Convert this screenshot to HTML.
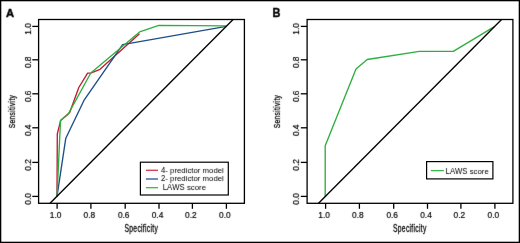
<!DOCTYPE html>
<html><head><meta charset="utf-8"><style>
html,body{margin:0;padding:0;background:#fff;}
svg{display:block;will-change:transform;}
text{font-family:"Liberation Sans", sans-serif;fill:#000;font-variant-ligatures:none;font-kerning:none;}
</style></head><body>
<svg width="520" height="243" viewBox="0 0 520 243" xmlns="http://www.w3.org/2000/svg">
<defs><filter id="bl" filterUnits="userSpaceOnUse" x="0" y="0" width="520" height="243"><feConvolveMatrix order="3" kernelMatrix="0.00524 0.06192 0.00524 0.06192 0.73137 0.06192 0.00524 0.06192 0.00524" edgeMode="none"/></filter></defs>
<rect x="0" y="0" width="520" height="243" fill="#fff"/>
<rect x="38.6" y="19.5" width="205.80" height="183.80" fill="none" stroke="#000" stroke-width="1.3"/>
<line x1="57.10" y1="203.3" x2="57.10" y2="208.8" stroke="#000" stroke-width="1.3"/>
<line x1="90.90" y1="203.3" x2="90.90" y2="208.8" stroke="#000" stroke-width="1.3"/>
<line x1="125.20" y1="203.3" x2="125.20" y2="208.8" stroke="#000" stroke-width="1.3"/>
<line x1="159.00" y1="203.3" x2="159.00" y2="208.8" stroke="#000" stroke-width="1.3"/>
<line x1="192.40" y1="203.3" x2="192.40" y2="208.8" stroke="#000" stroke-width="1.3"/>
<line x1="226.40" y1="203.3" x2="226.40" y2="208.8" stroke="#000" stroke-width="1.3"/>
<line x1="32.3" y1="196.40" x2="38.6" y2="196.40" stroke="#000" stroke-width="1.3"/>
<line x1="32.3" y1="162.40" x2="38.6" y2="162.40" stroke="#000" stroke-width="1.3"/>
<line x1="32.3" y1="127.80" x2="38.6" y2="127.80" stroke="#000" stroke-width="1.3"/>
<line x1="32.3" y1="93.80" x2="38.6" y2="93.80" stroke="#000" stroke-width="1.3"/>
<line x1="32.3" y1="59.80" x2="38.6" y2="59.80" stroke="#000" stroke-width="1.3"/>
<line x1="32.3" y1="26.40" x2="38.6" y2="26.40" stroke="#000" stroke-width="1.3"/>
<polyline points="57.00,196.40 57.30,134.00 60.60,120.60 69.70,112.50 78.80,87.50 87.60,73.10 90.70,73.10 100.00,69.30 139.50,33.80" fill="none" stroke="#c41a32" stroke-width="1.35" stroke-linejoin="round"/>
<polyline points="57.00,196.40 65.80,138.20 84.30,99.80 122.60,44.60 226.30,26.30" fill="none" stroke="#1c4e88" stroke-width="1.35" stroke-linejoin="round"/>
<polyline points="57.00,196.40 60.50,120.60 67.90,114.60 90.80,73.00 139.60,31.90 158.80,25.40 226.30,25.90" fill="none" stroke="#2fae40" stroke-width="1.35" stroke-linejoin="round"/>
<line x1="50.03" y1="203.3" x2="233.07" y2="19.5" stroke="#000" stroke-width="1.35"/>
<rect x="140.4" y="162.2" width="87.9" height="32.8" fill="#fff" stroke="#000" stroke-width="1.2"/>
<line x1="145.9" y1="170.3" x2="158.0" y2="170.3" stroke="#d2364c" stroke-width="1.3"/>
<line x1="145.9" y1="179.0" x2="158.0" y2="179.0" stroke="#245391" stroke-width="1.3"/>
<line x1="145.9" y1="187.7" x2="158.0" y2="187.7" stroke="#3cb54c" stroke-width="1.3"/>
<rect x="307.1" y="19.5" width="205.80" height="183.80" fill="none" stroke="#000" stroke-width="1.3"/>
<line x1="325.60" y1="203.3" x2="325.60" y2="208.8" stroke="#000" stroke-width="1.3"/>
<line x1="359.40" y1="203.3" x2="359.40" y2="208.8" stroke="#000" stroke-width="1.3"/>
<line x1="393.70" y1="203.3" x2="393.70" y2="208.8" stroke="#000" stroke-width="1.3"/>
<line x1="427.50" y1="203.3" x2="427.50" y2="208.8" stroke="#000" stroke-width="1.3"/>
<line x1="460.90" y1="203.3" x2="460.90" y2="208.8" stroke="#000" stroke-width="1.3"/>
<line x1="494.90" y1="203.3" x2="494.90" y2="208.8" stroke="#000" stroke-width="1.3"/>
<line x1="300.8" y1="196.40" x2="307.1" y2="196.40" stroke="#000" stroke-width="1.3"/>
<line x1="300.8" y1="162.40" x2="307.1" y2="162.40" stroke="#000" stroke-width="1.3"/>
<line x1="300.8" y1="127.80" x2="307.1" y2="127.80" stroke="#000" stroke-width="1.3"/>
<line x1="300.8" y1="93.80" x2="307.1" y2="93.80" stroke="#000" stroke-width="1.3"/>
<line x1="300.8" y1="59.80" x2="307.1" y2="59.80" stroke="#000" stroke-width="1.3"/>
<line x1="300.8" y1="26.40" x2="307.1" y2="26.40" stroke="#000" stroke-width="1.3"/>
<polyline points="325.20,196.40 325.20,145.70 356.00,69.00 367.20,59.50 419.40,51.40 453.30,51.40 494.80,26.30" fill="none" stroke="#2fae40" stroke-width="1.35" stroke-linejoin="round"/>
<line x1="318.53" y1="203.3" x2="501.57" y2="19.5" stroke="#000" stroke-width="1.35"/>
<rect x="426.6" y="161.6" width="66.3" height="17.3" fill="#fff" stroke="#000" stroke-width="1.2"/>
<line x1="430.9" y1="170.6" x2="443.9" y2="170.6" stroke="#3cb54c" stroke-width="1.3"/>
<rect x="0.65" y="0.65" width="518.7" height="241.7" fill="none" stroke="#000" stroke-width="1.3"/>
<g filter="url(#bl)">
<text transform="translate(55.60,217.9) scale(0.92,1)" font-size="9.1" text-anchor="middle" stroke="#000" stroke-width="0.2">1.0</text>
<text transform="translate(89.40,217.9) scale(0.92,1)" font-size="9.1" text-anchor="middle" stroke="#000" stroke-width="0.2">0.8</text>
<text transform="translate(123.70,217.9) scale(0.92,1)" font-size="9.1" text-anchor="middle" stroke="#000" stroke-width="0.2">0.6</text>
<text transform="translate(157.50,217.9) scale(0.92,1)" font-size="9.1" text-anchor="middle" stroke="#000" stroke-width="0.2">0.4</text>
<text transform="translate(190.90,217.9) scale(0.92,1)" font-size="9.1" text-anchor="middle" stroke="#000" stroke-width="0.2">0.2</text>
<text transform="translate(224.90,217.9) scale(0.92,1)" font-size="9.1" text-anchor="middle" stroke="#000" stroke-width="0.2">0.0</text>
<text transform="translate(30.9,198.90) rotate(-90) scale(0.92,1)" font-size="9.1" text-anchor="middle" stroke="#000" stroke-width="0.2">0.0</text>
<text transform="translate(30.9,164.90) rotate(-90) scale(0.92,1)" font-size="9.1" text-anchor="middle" stroke="#000" stroke-width="0.2">0.2</text>
<text transform="translate(30.9,130.30) rotate(-90) scale(0.92,1)" font-size="9.1" text-anchor="middle" stroke="#000" stroke-width="0.2">0.4</text>
<text transform="translate(30.9,96.30) rotate(-90) scale(0.92,1)" font-size="9.1" text-anchor="middle" stroke="#000" stroke-width="0.2">0.6</text>
<text transform="translate(30.9,62.30) rotate(-90) scale(0.92,1)" font-size="9.1" text-anchor="middle" stroke="#000" stroke-width="0.2">0.8</text>
<text transform="translate(30.9,28.90) rotate(-90) scale(0.92,1)" font-size="9.1" text-anchor="middle" stroke="#000" stroke-width="0.2">1.0</text>
<text transform="translate(141.3,232.1) scale(0.66,1)" font-size="10.2" letter-spacing="0.45" text-anchor="middle" stroke="#000" stroke-width="0.3">Specificity</text>
<text transform="translate(14.6,111.5) rotate(-90) scale(0.72,1)" font-size="9.2" letter-spacing="0.45" text-anchor="middle" stroke="#000" stroke-width="0.28">Sensitivity</text>
<text transform="translate(161.00,172.50) scale(0.9,1)" font-size="8.6">4</text>
<text transform="translate(165.30,172.50) scale(1.0,1)" font-size="7.8">-&#160;predictor&#160;model</text>
<text transform="translate(161.00,181.20) scale(0.9,1)" font-size="8.6">2</text>
<text transform="translate(165.30,181.20) scale(1.0,1)" font-size="7.8">-&#160;predictor&#160;model</text>
<text transform="translate(162.80,189.90) scale(0.9,1)" font-size="8.6">LAWS</text>
<text transform="translate(184.74,189.90) scale(1.0,1)" font-size="7.8">&#160;score</text>
<text transform="translate(6.1,16.5) scale(0.95,1)" font-size="11.8" font-weight="bold" stroke="#000" stroke-width="0.45">A</text>
<text transform="translate(324.10,217.9) scale(0.92,1)" font-size="9.1" text-anchor="middle" stroke="#000" stroke-width="0.2">1.0</text>
<text transform="translate(357.90,217.9) scale(0.92,1)" font-size="9.1" text-anchor="middle" stroke="#000" stroke-width="0.2">0.8</text>
<text transform="translate(392.20,217.9) scale(0.92,1)" font-size="9.1" text-anchor="middle" stroke="#000" stroke-width="0.2">0.6</text>
<text transform="translate(426.00,217.9) scale(0.92,1)" font-size="9.1" text-anchor="middle" stroke="#000" stroke-width="0.2">0.4</text>
<text transform="translate(459.40,217.9) scale(0.92,1)" font-size="9.1" text-anchor="middle" stroke="#000" stroke-width="0.2">0.2</text>
<text transform="translate(493.40,217.9) scale(0.92,1)" font-size="9.1" text-anchor="middle" stroke="#000" stroke-width="0.2">0.0</text>
<text transform="translate(299.4,198.90) rotate(-90) scale(0.92,1)" font-size="9.1" text-anchor="middle" stroke="#000" stroke-width="0.2">0.0</text>
<text transform="translate(299.4,164.90) rotate(-90) scale(0.92,1)" font-size="9.1" text-anchor="middle" stroke="#000" stroke-width="0.2">0.2</text>
<text transform="translate(299.4,130.30) rotate(-90) scale(0.92,1)" font-size="9.1" text-anchor="middle" stroke="#000" stroke-width="0.2">0.4</text>
<text transform="translate(299.4,96.30) rotate(-90) scale(0.92,1)" font-size="9.1" text-anchor="middle" stroke="#000" stroke-width="0.2">0.6</text>
<text transform="translate(299.4,62.30) rotate(-90) scale(0.92,1)" font-size="9.1" text-anchor="middle" stroke="#000" stroke-width="0.2">0.8</text>
<text transform="translate(299.4,28.90) rotate(-90) scale(0.92,1)" font-size="9.1" text-anchor="middle" stroke="#000" stroke-width="0.2">1.0</text>
<text transform="translate(409.8,232.1) scale(0.66,1)" font-size="10.2" letter-spacing="0.45" text-anchor="middle" stroke="#000" stroke-width="0.3">Specificity</text>
<text transform="translate(280.3,111.5) rotate(-90) scale(0.72,1)" font-size="9.2" letter-spacing="0.45" text-anchor="middle" stroke="#000" stroke-width="0.28">Sensitivity</text>
<text transform="translate(445.60,173.90) scale(0.9,1)" font-size="8.6">LAWS</text>
<text transform="translate(467.54,173.90) scale(1.0,1)" font-size="7.8">&#160;score</text>
<text transform="translate(272.6,16.9) scale(0.92,1)" font-size="12.0" font-weight="bold" stroke="#000" stroke-width="0.35">B</text>
</g>
</svg>
</body></html>
